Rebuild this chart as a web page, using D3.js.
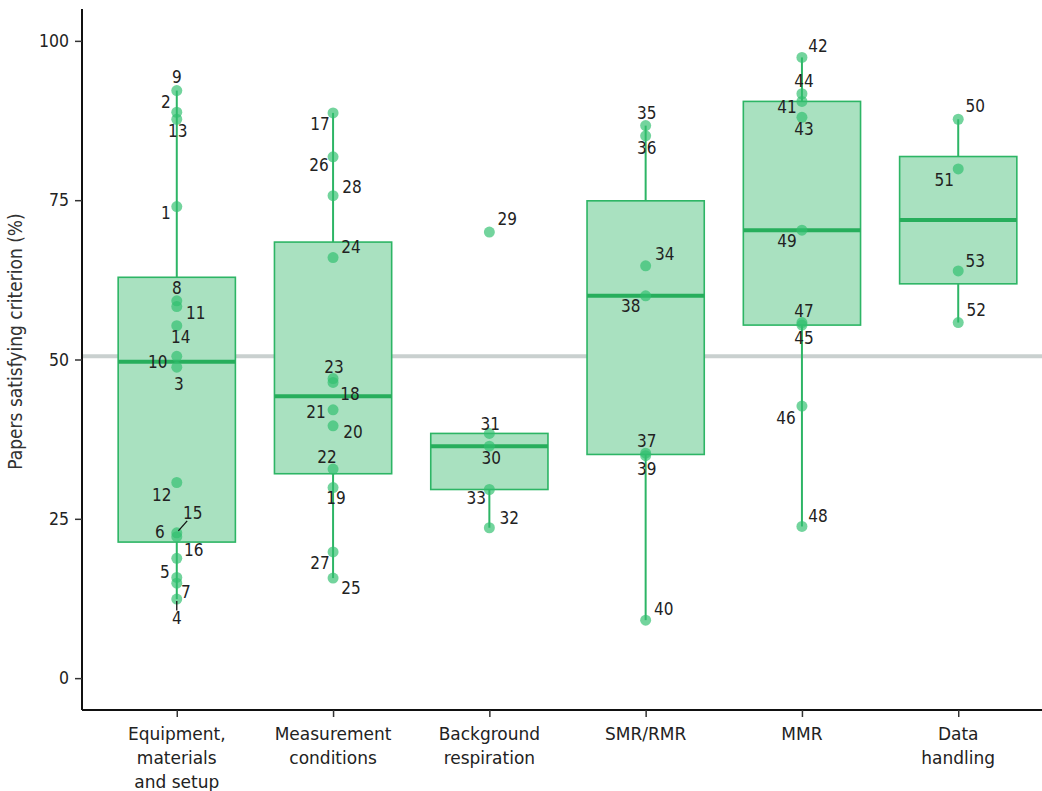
<!DOCTYPE html>
<html>
<head>
<meta charset="utf-8">
<script src="https://cdn.jsdelivr.net/npm/d3@7"></script>
<style>
  body { margin: 0; background: #fff; }
  text { font-family: "DejaVu Sans Condensed", "DejaVu Sans", sans-serif; }
</style>
</head>
<body>
<div id="chart"></div>
<script>
// categories along the x axis (line breaks as in the figure)
var categories = [
  ["Equipment,", "materials", "and setup"],
  ["Measurement", "conditions"],
  ["Background", "respiration"],
  ["SMR/RMR"],
  ["MMR"],
  ["Data", "handling"]
];

// % of papers satisfying each criterion, in paper-number order inside each category
var equipmentValues   = [74.0, 88.8, 48.8, 12.4, 15.8, 22.2, 14.9, 59.2, 92.2, 50.5, 58.3, 30.7, 87.7, 55.3, 22.8, 18.8]; // 1-16
var measurementValues = [88.7, 46.4, 29.9, 39.6, 42.1, 32.8, 47.0, 66.0, 15.7, 81.8, 19.8, 75.7];                         // 17-28
var backgroundValues  = [70.0, 36.4, 38.4, 23.6, 29.6];                                                                   // 29-33
var smrValues         = [64.7, 86.7, 85.1, 35.3, 60.0, 34.9, 9.1];                                                        // 34-40
var mmrValues         = [90.5, 97.4, 88.0, 91.7, 55.4, 42.7, 55.8, 23.8, 70.3];                                           // 41-49
var dataValues        = [87.7, 79.9, 55.8, 63.9];                                                                         // 50-53

var referenceLine = 50.5;
var yTicks = [0, 25, 50, 75, 100];

// label placement (pixel nudges from each point), like the repelled labels in the figure
var labelNudge = {
  1:[-11,6], 2:[-11,-10], 3:[2,17], 4:[0,19], 5:[-12,-6], 6:[-17,-5], 7:[9,9], 8:[0,-13],
  9:[0,-14], 10:[-19,6], 11:[19,6], 12:[-15,12], 13:[1,12], 14:[4,11], 15:[16,-20], 16:[17,-8],
  17:[-13,11], 18:[17,11], 19:[3,10], 20:[20,6], 21:[-17,2], 22:[-6,-12], 23:[1,-12], 24:[18,-11],
  25:[18,10], 26:[-14,8], 27:[-13,11], 28:[19,-9],
  29:[18,-13], 30:[2,12], 31:[1,-10], 32:[20,-10], 33:[-13,8],
  34:[19,-12], 35:[1,-13], 36:[1,12], 37:[1,-12], 38:[-15,10], 39:[1,13], 40:[18,-11],
  41:[-15,5], 42:[16,-12], 43:[2,12], 44:[2,-13], 45:[2,13], 46:[-16,12], 47:[2,-12], 48:[16,-11], 49:[-15,11],
  50:[17,-13], 51:[-14,11], 52:[18,-13], 53:[17,-10]
};
var withLeader = [4, 15];

var groups = [equipmentValues, measurementValues, backgroundValues, smrValues, mmrValues, dataValues];

var W = 1042, H = 791;
var green = "#2db565", boxFill = "#a9e1c0";

var svg = d3.select("#chart").append("svg").attr("width", W).attr("height", H);

var x = d3.scalePoint().domain(d3.range(categories.length)).range([83, 1052]).padding(0.6);
var y = d3.scaleLinear().domain([-5, 105]).range([710, 9]);
var boxW = x.step() * 0.75;

// flatten points with paper numbers
var points = [];
var paper = 1;
groups.forEach(function (vals, g) {
  vals.forEach(function (v) { points.push({ id: paper++, group: g, value: v }); });
});

// box statistics
var stats = groups.map(function (vals, g) {
  var s = vals.slice().sort(d3.ascending);
  var q1 = d3.quantileSorted(s, 0.25), med = d3.quantileSorted(s, 0.5), q3 = d3.quantileSorted(s, 0.75);
  var iqr = q3 - q1;
  var inside = s.filter(function (v) { return v >= q1 - 1.5 * iqr && v <= q3 + 1.5 * iqr; });
  return { group: g, q1: q1, med: med, q3: q3, lo: d3.min(inside), hi: d3.max(inside) };
});

// reference line
svg.append("line")
  .attr("x1", 83).attr("x2", W)
  .attr("y1", y(referenceLine)).attr("y2", y(referenceLine))
  .attr("stroke", "#c9d0cf").attr("stroke-width", 4);

var box = svg.selectAll("g.box").data(stats).enter().append("g").attr("class", "box");

box.append("line")
  .attr("x1", function (d) { return x(d.group); }).attr("x2", function (d) { return x(d.group); })
  .attr("y1", function (d) { return y(d.q3); }).attr("y2", function (d) { return y(d.hi); })
  .attr("stroke", green).attr("stroke-width", 2);
box.append("line")
  .attr("x1", function (d) { return x(d.group); }).attr("x2", function (d) { return x(d.group); })
  .attr("y1", function (d) { return y(d.q1); }).attr("y2", function (d) { return y(d.lo); })
  .attr("stroke", green).attr("stroke-width", 2);
box.append("rect")
  .attr("x", function (d) { return x(d.group) - boxW / 2; })
  .attr("width", boxW)
  .attr("y", function (d) { return y(d.q3); })
  .attr("height", function (d) { return y(d.q1) - y(d.q3); })
  .attr("fill", boxFill).attr("stroke", green).attr("stroke-width", 1.6);
box.append("line")
  .attr("x1", function (d) { return x(d.group) - boxW / 2; })
  .attr("x2", function (d) { return x(d.group) + boxW / 2; })
  .attr("y1", function (d) { return y(d.med); }).attr("y2", function (d) { return y(d.med); })
  .attr("stroke", "#27ae5c").attr("stroke-width", 4);

// points
svg.selectAll("circle.pt").data(points).enter().append("circle")
  .attr("class", "pt")
  .attr("cx", function (d) { return x(d.group); })
  .attr("cy", function (d) { return y(d.value); })
  .attr("r", 5.5)
  .attr("fill", "#31c06f").attr("fill-opacity", 0.68);

// leader segments
svg.selectAll("line.lead").data(points.filter(function (d) { return withLeader.indexOf(d.id) >= 0; }))
  .enter().append("line")
  .attr("x1", function (d) { return x(d.group) + labelNudge[d.id][0] * 0.1; })
  .attr("y1", function (d) { return y(d.value) + labelNudge[d.id][1] * 0.1; })
  .attr("x2", function (d) { return x(d.group) + labelNudge[d.id][0] * 0.65; })
  .attr("y2", function (d) { return y(d.value) + labelNudge[d.id][1] * 0.6; })
  .attr("stroke", "#111").attr("stroke-width", 1.3);

// labels
svg.selectAll("text.lab").data(points).enter().append("text")
  .attr("class", "lab")
  .attr("x", function (d) { return x(d.group) + labelNudge[d.id][0]; })
  .attr("y", function (d) { return y(d.value) + labelNudge[d.id][1]; })
  .attr("dy", "0.36em")
  .attr("text-anchor", "middle")
  .attr("font-size", 17)
  .attr("fill", "#222")
  .text(function (d) { return d.id; });

// axes
var yAxis = svg.append("g").attr("transform", "translate(82,0)")
  .call(d3.axisLeft(y).tickValues(yTicks).tickSize(7).tickPadding(6));
yAxis.select(".domain").attr("d", "M0," + y(105) + "V" + y(-5)).attr("stroke", "#111").attr("stroke-width", 2);
yAxis.selectAll(".tick line").attr("stroke", "#333").attr("stroke-width", 1.5);
yAxis.selectAll(".tick text").attr("font-size", 17.5).attr("fill", "#222")
  .style("font-family", "'DejaVu Sans Condensed', sans-serif");

var xAxis = svg.append("g").attr("transform", "translate(0," + y(-5) + ")")
  .call(d3.axisBottom(x).tickSize(7).tickFormat(""));
xAxis.select(".domain").attr("d", "M82,0H" + W).attr("stroke", "#111").attr("stroke-width", 2);
xAxis.selectAll(".tick line").attr("stroke", "#333").attr("stroke-width", 1.5);

svg.selectAll("text.cat").data(categories).enter().append("text")
  .attr("class", "cat")
  .attr("x", function (d, i) { return x(i); })
  .attr("y", y(-5) + 30)
  .attr("text-anchor", "middle")
  .attr("font-size", 17)
  .attr("fill", "#222")
  .style("font-family", "'DejaVu Sans', sans-serif")
  .each(function (lines) {
    var t = d3.select(this);
    lines.forEach(function (s, k) {
      t.append("tspan").attr("x", t.attr("x")).attr("dy", k === 0 ? 0 : 24).text(s);
    });
  });

svg.append("text")
  .attr("transform", "translate(22," + (y(50) - 18) + ") rotate(-90)")
  .attr("text-anchor", "middle")
  .attr("font-size", 19)
  .attr("fill", "#333")
  .text("Papers satisfying criterion (%)");
</script>
</body>
</html>
